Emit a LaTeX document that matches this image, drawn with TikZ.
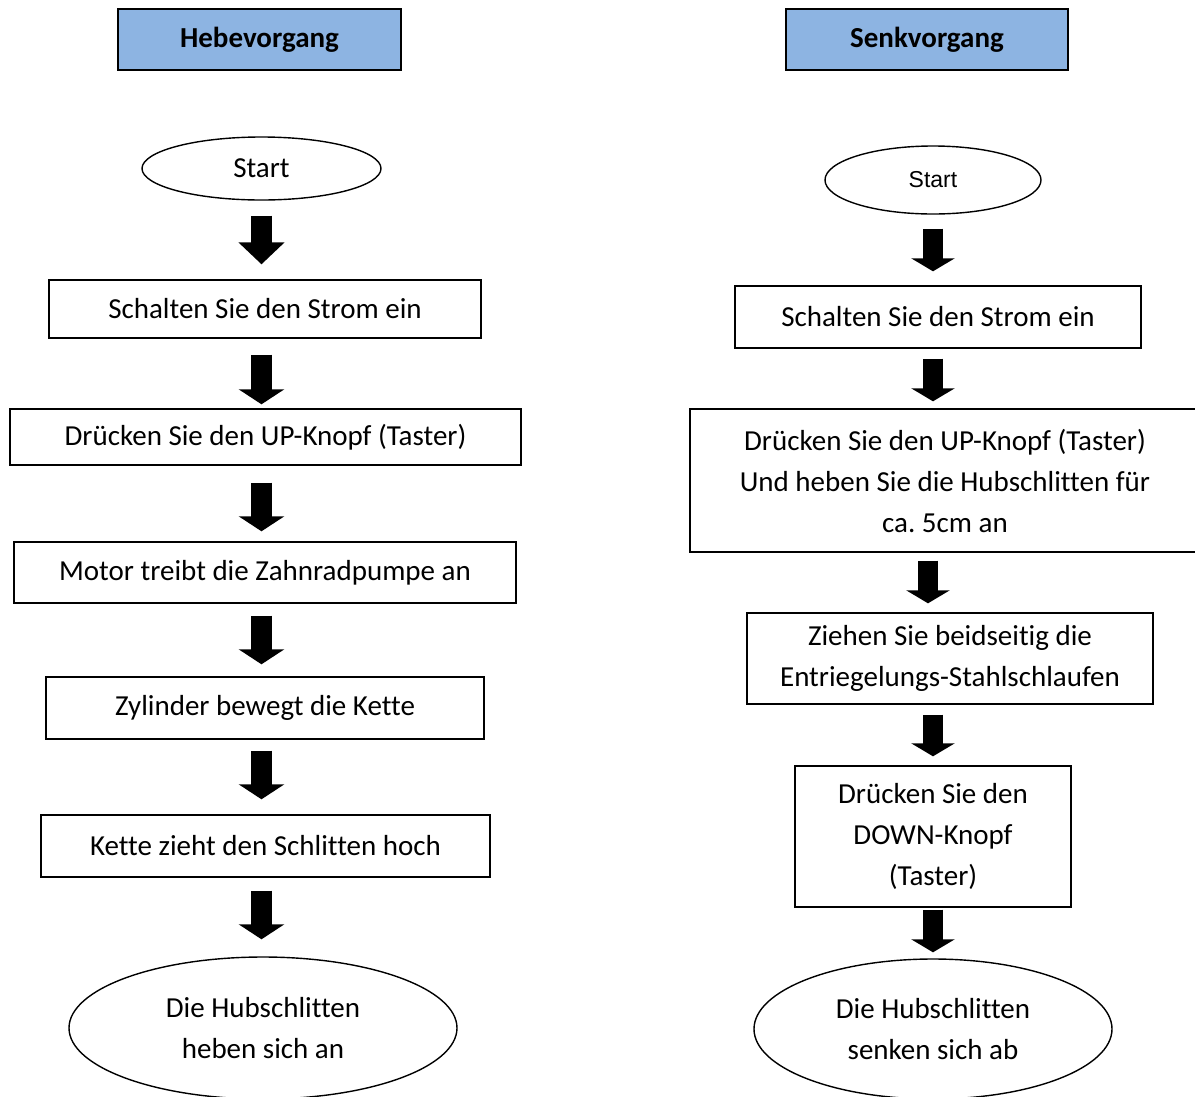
\documentclass[tikz,border=0pt]{standalone}
\usepackage{fontspec}
\setmainfont{Carlito}[Ligatures=NoCommon]
\newfontfamily\arialfont{Liberation Sans}
\usepackage{tikz}
\usetikzlibrary{arrows.meta,shapes.geometric}
\definecolor{headblue}{HTML}{8DB4E2}
\frenchspacing

\begin{document}
\begin{tikzpicture}[x=1pt, y=-1pt,
    font=\fontsize{29pt}{41pt}\selectfont,
    headbox/.style={draw, line width=1.5pt, fill=headblue, inner sep=0pt, font=\fontsize{29pt}{41pt}\selectfont\bfseries},
    stepbox/.style={draw, line width=1.4pt, inner sep=0pt, align=center},
    terminal/.style={draw, ellipse, line width=1.4pt, inner sep=0pt, align=center},
    blockarrow/.style={line width=21pt, -{Triangle[length=15pt, width=45pt]}}]
  \useasboundingbox (0,0) rectangle (1195,1096);
  \fill[white] (0,0) rectangle (1195,1096);
  \clip (0,0) rectangle (1195,1096);

  % Hebevorgang
  \node[headbox, minimum width=283pt, minimum height=61pt] (hhead) at (259.5,39.5) {Hebevorgang};
  \node[terminal, minimum width=239pt, minimum height=63pt] (hstart) at (261.5,168.5) {Start};
  \node[stepbox, minimum width=432pt, minimum height=58pt] (h1) at (265,309) {Schalten Sie den Strom ein};
  \node[stepbox, minimum width=511pt, minimum height=56pt] (h2) at (265.5,437) {Drücken Sie den UP-Knopf (Taster)};
  \node[stepbox, minimum width=502pt, minimum height=61pt] (h3) at (265,572.5) {Motor treibt die Zahnradpumpe an};
  \node[stepbox, minimum width=438pt, minimum height=62pt] (h4) at (265,708) {Zylinder bewegt die Kette};
  \node[stepbox, minimum width=449pt, minimum height=62pt] (h5) at (265.5,846) {Kette zieht den Schlitten hoch};
  \node[terminal, minimum width=388pt, minimum height=142pt] (hend) at (263,1028) {Die Hubschlitten\\heben sich an};

  \draw[blockarrow, -{Triangle[length=22pt, width=45pt]}, shorten <=15pt, shorten >=15pt] (hstart.south) -- (hstart.south |- h1.north);
  \draw[blockarrow, shorten <=16pt, shorten >=4pt] (h1.south -| hstart) -- (h2.north -| hstart);
  \draw[blockarrow, shorten <=17pt, shorten >=10pt] (h2.south -| hstart) -- (h3.north -| hstart);
  \draw[blockarrow, shorten <=12pt, shorten >=12pt] (h3.south -| hstart) -- (h4.north -| hstart);
  \draw[blockarrow, shorten <=11pt, shorten >=15pt] (h4.south -| hstart) -- (h5.north -| hstart);
  \draw[blockarrow, shorten <=13pt, shorten >=17pt] (h5.south -| hstart) -- (hend.north -| hstart);

  % Senkvorgang
  \node[headbox, minimum width=282pt, minimum height=61pt] (shead) at (927,39.5) {Senkvorgang};
  \node[terminal, minimum width=216pt, minimum height=68pt, font=\fontsize{23pt}{28pt}\arialfont] (sstart) at (933,180) {Start};
  \node[stepbox, minimum width=406pt, minimum height=62pt] (s1) at (938,317) {Schalten Sie den Strom ein};
  \node[stepbox, minimum width=510pt, minimum height=143pt] (s2) at (945,480.5) {Drücken Sie den UP-Knopf (Taster)\\Und heben Sie die Hubschlitten für\\ca. 5cm an};
  \node[stepbox, minimum width=406pt, minimum height=91pt] (s3) at (950,658.5) {Ziehen Sie beidseitig die\\Entriegelungs-Stahlschlaufen};
  \node[stepbox, minimum width=276pt, minimum height=141pt] (s4) at (933,836.5) {Drücken Sie den\\DOWN-Knopf\\(Taster)};
  \node[terminal, minimum width=358pt, minimum height=140pt] (send) at (933,1029) {Die Hubschlitten\\senken sich ab};

  \draw[blockarrow, line width=20pt, -{Triangle[length=13pt, width=43pt]}, shorten <=14pt, shorten >=14pt] (sstart.south) -- (sstart.south |- s1.north);
  \draw[blockarrow, line width=20pt, -{Triangle[length=13pt, width=43pt]}, shorten <=10pt, shorten >=7pt] (s1.south -| sstart) -- (s2.north -| sstart);
  \draw[blockarrow, line width=20pt, -{Triangle[length=13pt, width=43pt]}, shorten <=8pt, shorten >=9pt] ([xshift=-5pt]s2.south -| sstart) -- ([xshift=-5pt]s3.north -| sstart);
  \draw[blockarrow, line width=20pt, -{Triangle[length=13pt, width=43pt]}, shorten <=10pt, shorten >=9pt] (s3.south -| sstart) -- (s4.north -| sstart);
  \draw[blockarrow, line width=20pt, -{Triangle[length=13pt, width=43pt]}, shorten <=2pt, shorten >=6pt] (s4.south -| sstart) -- (send.north -| sstart);
\end{tikzpicture}
\end{document}
